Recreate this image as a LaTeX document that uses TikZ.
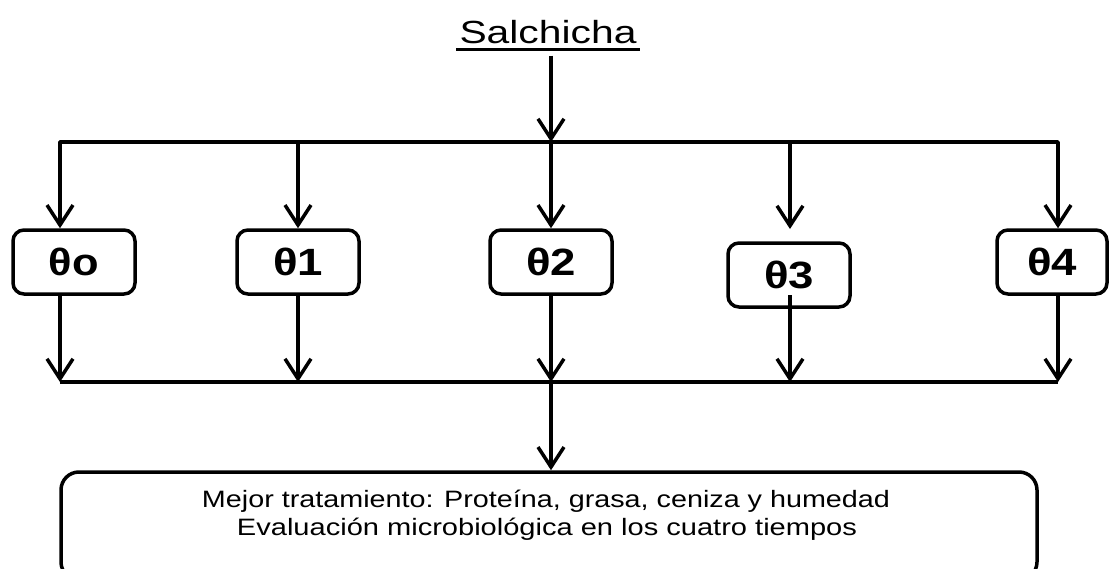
\documentclass[tikz,border=0pt]{standalone}
\usepackage{graphicx}
\usepackage{fontspec}
\setmainfont{Liberation Sans}
\usetikzlibrary{arrows.meta}
\newcommand\thlab[1]{\resizebox{50pt}{\height}{θ#1}}
\begin{document}
\begin{tikzpicture}[x=1pt,y=-1pt,
  conn/.style={line width=3.5pt, line join=round},
  arr/.style={conn, -{Straight Barb[length=20pt,width=26pt]}},
  tbox/.style={draw, line width=3.5pt, rounded corners=11pt, minimum width=122pt,
    minimum height=64pt, inner sep=0pt, font=\fontsize{38}{38}\selectfont\bfseries},
]
\useasboundingbox (0,0) rectangle (1109,568);

% title
\node[inner sep=0pt, anchor=base, font=\fontsize{32}{32}\selectfont] (sal) at (548,43)
  {\resizebox{177pt}{\height}{Salchicha}};
\draw[line width=3pt] ([xshift=-3pt,yshift=-6pt]sal.base west) -- ([xshift=3pt,yshift=-6pt]sal.base east);
\coordinate (s0) at ([yshift=-12pt]sal.south);

% junctions
\coordinate (t0) at (60,142);
\coordinate (t1) at (298,142);
\coordinate (t2) at (551,142);
\coordinate (t3) at (790,142);
\coordinate (t4) at (1058,142);
\coordinate (u0) at (60,382);
\coordinate (u1) at (298,382);
\coordinate (u2) at (551,382);
\coordinate (u3) at (790,382);
\coordinate (u4) at (1058,382);
\coordinate (a3) at (790,229);
\coordinate (c3) at (790,295);

% boxes
\node[tbox] (b0) at (74,262) {\thlab{o}};
\node[tbox] (b1) at (298,262) {\thlab{1}};
\node[tbox] (b2) at (551,262) {\thlab{2}};
\node[tbox] (b3) at (789,275) {\thlab{3}};
\node[tbox, minimum width=110pt] (b4) at (1052,262) {\thlab{4}};

\node[draw, line width=3.5pt, rounded corners=18pt, minimum width=976pt,
  minimum height=108pt, inner sep=0pt] (res) at (549,526) {};
\node[anchor=base, inner sep=0pt, font=\fontsize{23.7}{28}\selectfont] (l1) at (546,507)
  {\resizebox{688pt}{\height}{Mejor tratamiento: Proteína, grasa, ceniza y humedad}};
\node[anchor=base, inner sep=0pt, font=\fontsize{23.7}{28}\selectfont] (l2) at (547,535)
  {\resizebox{620pt}{\height}{Evaluación microbiológica en los cuatro tiempos}};

% connectors
\draw[arr] (s0 -| t2) -- (t2);
\draw[arr] (t1) -- (t0) -- (t0 |- b0.north);
\draw[arr] (t3) -- (t4) -- (t4 |- b4.north);
\draw[conn] (t1) -- (t3);
\draw[arr] (t1) -- (b1.north);
\draw[arr] (t2) -- (b2.north);
\draw[arr] (t3) -- (a3);

\draw[arr] (b0.south -| u0) -- (u0);
\draw[arr] (b1.south) -- (u1);
\draw[arr] (b2.south) -- (u2);
\draw[arr] (c3) -- (u3);
\draw[arr] (b4.south -| u4) -- (u4);
\draw[conn] (u0) -- (u4);
\draw[arr] (u2) -- (res.north -| u2);
\end{tikzpicture}
\end{document}
